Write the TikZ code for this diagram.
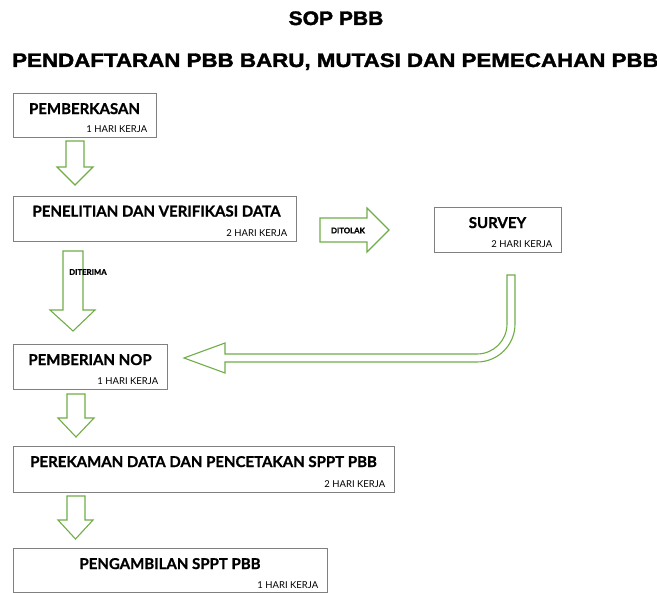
\documentclass[tikz,border=0pt]{standalone}
\usepackage{fontspec}
\setmainfont{Lato}
\newfontfamily\boxbold[FakeBold=0.9]{Lato Bold}
\newfontfamily\titlefont[FakeStretch=1.08,FakeBold=1.8]{Liberation Sans Bold}
\newfontfamily\subtitlefont[FakeStretch=1.145,FakeBold=1.8]{Liberation Sans Bold}
\definecolor{boxgray}{HTML}{808080}
\definecolor{arrgreen}{HTML}{70AD47}
\begin{document}
\begin{tikzpicture}[x=1pt,y=-1pt,
  stepbox/.style={draw=boxgray,line width=0.9pt,rectangle,inner sep=0pt},
  maintext/.style={font=\boxbold\fontsize{15}{15}\selectfont,anchor=base,inner sep=0pt},
  subtext/.style={font=\fontsize{9.5}{9.5}\selectfont,anchor=base east,inner sep=0pt},
  arrlabel/.style={font=\boxbold\fontsize{7.8}{7.8}\selectfont,inner sep=0pt},
  blockarrow/.style={draw=arrgreen,line width=1.1pt,line join=miter,fill=white}]
\clip (0,0) rectangle (657,593);
\fill[white] (0,0) rectangle (657,593);

% titles
\node[font=\titlefont\fontsize{19.5}{19.5}\selectfont,anchor=base,inner sep=0pt] (title) at (336,25) {SOP PBB};
\node[font=\subtitlefont\fontsize{19.5}{19.5}\selectfont,anchor=base west,inner sep=0pt] (subtitle) at (12,67) {PENDAFTARAN PBB BARU, MUTASI DAN PEMECAHAN PBB};

% boxes
\node[stepbox,minimum width=143pt,minimum height=44pt] (b1) at (84.5,115) {};
\node[stepbox,minimum width=283pt,minimum height=45pt] (b2) at (154.5,218.5) {};
\node[stepbox,minimum width=127pt,minimum height=45pt] (bs) at (497.5,229.5) {};
\node[stepbox,minimum width=154pt,minimum height=45pt] (b3) at (90,366.5) {};
\node[stepbox,minimum width=381pt,minimum height=46pt] (b4) at (203.5,469) {};
\node[stepbox,minimum width=314pt,minimum height=44pt] (b5) at (170,570) {};

% texts
\node[maintext] (t1) at ([yshift=-21.5pt]b1.north) {PEMBERKASAN};
\node[subtext] (s1) at ([xshift=-9pt,yshift=4.5pt]b1.south east) {1 HARI KERJA};
\node[maintext] (t2) at ([xshift=2pt,yshift=-21pt]b2.north) {PENELITIAN DAN VERIFIKASI DATA};
\node[subtext] (s2) at ([xshift=-9pt,yshift=4.5pt]b2.south east) {2 HARI KERJA};
\node[maintext] (ts) at ([yshift=-21.5pt]bs.north) {SURVEY};
\node[subtext] (ss) at ([xshift=-9pt,yshift=4.5pt]bs.south east) {2 HARI KERJA};
\node[maintext] (t3) at ([yshift=-21.5pt]b3.north) {PEMBERIAN NOP};
\node[subtext] (s3) at ([xshift=-9pt,yshift=4.5pt]b3.south east) {1 HARI KERJA};
\node[maintext] (t4) at ([yshift=-21.5pt]b4.north) {PEREKAMAN DATA DAN PENCETAKAN SPPT PBB};
\node[subtext] (s4) at ([xshift=-9pt,yshift=4.5pt]b4.south east) {2 HARI KERJA};
\node[maintext] (t5) at ([yshift=-21.5pt]b5.north) {PENGAMBILAN SPPT PBB};
\node[subtext] (s5) at ([xshift=-9pt,yshift=3.5pt]b5.south east) {1 HARI KERJA};

% block arrows (down)
\draw[blockarrow] (66,141) -- (84,141) -- (84,167) -- (93,167) -- (75,185) -- (57,167) -- (66,167) -- cycle;
\draw[blockarrow] (63,251) -- (83,251) -- (83,310) -- (95,310) -- (73,331) -- (50,310) -- (63,310) -- cycle;
\node[arrlabel,anchor=west] (lterima) at (69,272) {DITERIMA};
\draw[blockarrow] (67,394) -- (85,394) -- (85,418) -- (94,418) -- (76,437) -- (58,418) -- (67,418) -- cycle;
\draw[blockarrow] (67,496) -- (85,496) -- (85,520) -- (93,520) -- (75.5,539) -- (58,520) -- (67,520) -- cycle;

% right arrow DITOLAK
\draw[blockarrow] (320,218) -- (367,218) -- (367,208) -- (389,230) -- (367,252) -- (367,242) -- (320,242) -- cycle;
\node[arrlabel] (ltolak) at (348,230.5) {DITOLAK};

% bent arrow from survey back to pemberian NOP
\draw[blockarrow] (507,275) -- (515,275) -- (515,324)
  .. controls (515,345) and (498,362) .. (477,362)
  -- (225,362) -- (225,373) -- (184,358) -- (225,343) -- (225,354) -- (477,354)
  .. controls (493.6,354) and (507,340.6) .. (507,324) -- cycle;
\end{tikzpicture}
\end{document}
